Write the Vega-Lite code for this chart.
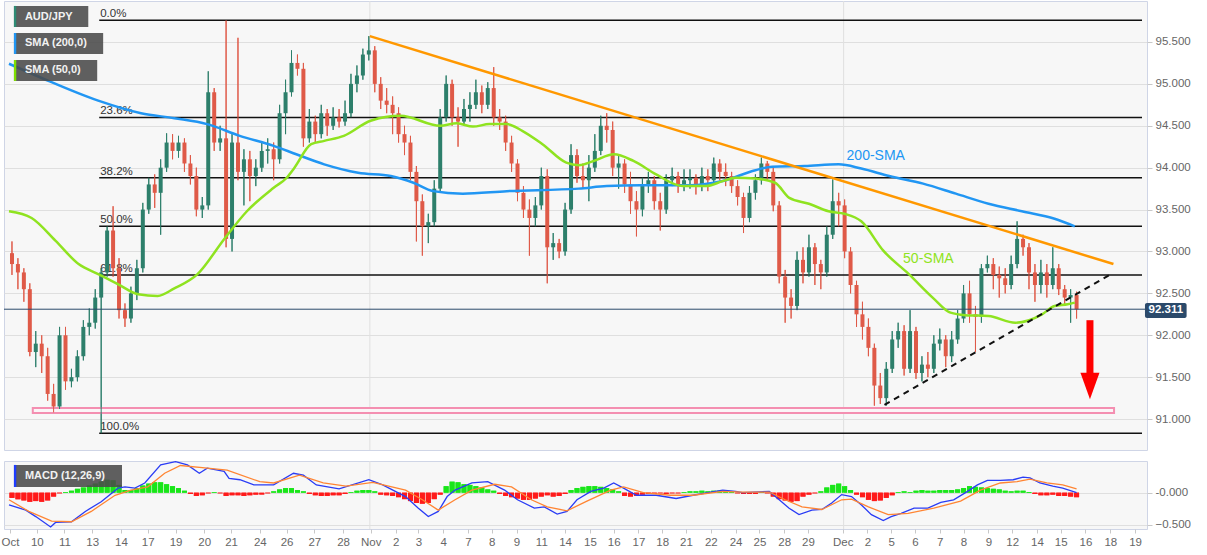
{
"$schema": "https://vega.github.io/schema/vega-lite/v6.json",
"padding": 0,
"spacing": 7,
"background": "#ffffff",
"config": {
  "font": "Liberation Sans",
  "view": {"stroke": "#cfd5e6", "fill": "#f7f7f7"},
  "axis": {"labelFont": "Liberation Sans", "labelFontSize": 11.5, "labelColor": "#666666", "tickColor": "#c8c8c8", "domain": false, "gridColor": "#dfdfdf"}
},
"resolve": {"scale": {"x": "independent", "y": "independent"}},
"datasets": {
  "candles": [
{"i":0,"o":92.98,"h":93.12,"l":92.72,"c":92.85,"hist":-0.08},
{"i":1,"o":92.85,"h":92.92,"l":92.55,"c":92.75,"hist":-0.10},
{"i":2,"o":92.75,"h":92.80,"l":92.40,"c":92.55,"hist":-0.12},
{"i":3,"o":92.55,"h":92.62,"l":91.75,"c":91.80,"hist":-0.14},
{"i":4,"o":91.80,"h":92.05,"l":91.62,"c":91.90,"hist":-0.13},
{"i":5,"o":91.90,"h":92.00,"l":91.55,"c":91.75,"hist":-0.14},
{"i":6,"o":91.75,"h":91.85,"l":91.22,"c":91.30,"hist":-0.12},
{"i":7,"o":91.30,"h":91.42,"l":91.08,"c":91.15,"hist":-0.06},
{"i":8,"o":91.15,"h":92.10,"l":91.12,"c":92.00,"hist":-0.01},
{"i":9,"o":92.00,"h":92.10,"l":91.35,"c":91.45,"hist":0.01},
{"i":10,"o":91.45,"h":91.60,"l":91.38,"c":91.50,"hist":0.03},
{"i":11,"o":91.50,"h":91.82,"l":91.45,"c":91.75,"hist":0.06},
{"i":12,"o":91.75,"h":92.18,"l":91.70,"c":92.10,"hist":0.08},
{"i":13,"o":92.10,"h":92.32,"l":92.00,"c":92.15,"hist":0.11},
{"i":14,"o":92.15,"h":92.55,"l":92.08,"c":92.45,"hist":0.14},
{"i":15,"o":92.45,"h":92.80,"l":90.83,"c":92.75,"hist":0.17},
{"i":16,"o":92.75,"h":93.30,"l":92.70,"c":93.25,"hist":0.20},
{"i":17,"o":93.25,"h":93.54,"l":92.70,"c":92.80,"hist":0.19},
{"i":18,"o":92.80,"h":92.92,"l":92.20,"c":92.30,"hist":0.12},
{"i":19,"o":92.30,"h":92.38,"l":92.10,"c":92.20,"hist":0.04},
{"i":20,"o":92.20,"h":92.58,"l":92.15,"c":92.50,"hist":0.04},
{"i":21,"o":92.50,"h":92.90,"l":92.42,"c":92.80,"hist":0.07},
{"i":22,"o":92.80,"h":93.58,"l":92.75,"c":93.50,"hist":0.11},
{"i":23,"o":93.50,"h":93.88,"l":93.45,"c":93.80,"hist":0.14},
{"i":24,"o":93.80,"h":93.92,"l":93.52,"c":93.70,"hist":0.16},
{"i":25,"o":93.70,"h":94.10,"l":93.20,"c":94.00,"hist":0.16},
{"i":26,"o":94.00,"h":94.41,"l":93.95,"c":94.30,"hist":0.13},
{"i":27,"o":94.30,"h":94.40,"l":94.10,"c":94.20,"hist":0.10},
{"i":28,"o":94.20,"h":94.38,"l":94.12,"c":94.30,"hist":0.07},
{"i":29,"o":94.30,"h":94.35,"l":93.95,"c":94.05,"hist":0.03},
{"i":30,"o":94.05,"h":94.15,"l":93.80,"c":93.90,"hist":-0.02},
{"i":31,"o":93.90,"h":94.00,"l":93.42,"c":93.50,"hist":-0.05},
{"i":32,"o":93.50,"h":93.65,"l":93.40,"c":93.55,"hist":-0.04},
{"i":33,"o":93.55,"h":95.15,"l":93.50,"c":94.90,"hist":-0.01},
{"i":34,"o":94.90,"h":94.95,"l":94.20,"c":94.30,"hist":0.01},
{"i":35,"o":94.30,"h":94.50,"l":94.20,"c":94.35,"hist":-0.01},
{"i":36,"o":94.35,"h":95.76,"l":93.05,"c":93.15,"hist":-0.05},
{"i":37,"o":93.15,"h":94.40,"l":93.00,"c":94.30,"hist":-0.04},
{"i":38,"o":94.30,"h":95.55,"l":93.85,"c":93.95,"hist":-0.04},
{"i":39,"o":93.95,"h":94.22,"l":93.55,"c":94.10,"hist":-0.05},
{"i":40,"o":94.10,"h":94.20,"l":93.60,"c":93.90,"hist":-0.04},
{"i":41,"o":93.90,"h":94.10,"l":93.78,"c":94.00,"hist":-0.03},
{"i":42,"o":94.00,"h":94.30,"l":93.95,"c":94.20,"hist":-0.03},
{"i":43,"o":94.20,"h":94.35,"l":94.05,"c":94.22,"hist":-0.01},
{"i":44,"o":94.22,"h":94.30,"l":93.85,"c":94.10,"hist":0.02},
{"i":45,"o":94.10,"h":94.75,"l":94.05,"c":94.65,"hist":0.05},
{"i":46,"o":94.65,"h":95.05,"l":94.40,"c":94.90,"hist":0.07},
{"i":47,"o":94.90,"h":95.40,"l":94.85,"c":95.25,"hist":0.07},
{"i":48,"o":95.25,"h":95.35,"l":95.10,"c":95.18,"hist":0.04},
{"i":49,"o":95.18,"h":95.25,"l":94.25,"c":94.35,"hist":0.02},
{"i":50,"o":94.35,"h":94.70,"l":94.30,"c":94.55,"hist":-0.02},
{"i":51,"o":94.55,"h":94.62,"l":94.30,"c":94.40,"hist":-0.04},
{"i":52,"o":94.40,"h":94.75,"l":94.35,"c":94.65,"hist":-0.05},
{"i":53,"o":94.65,"h":94.70,"l":94.38,"c":94.50,"hist":-0.05},
{"i":54,"o":94.50,"h":94.72,"l":94.45,"c":94.60,"hist":-0.04},
{"i":55,"o":94.60,"h":94.70,"l":94.48,"c":94.55,"hist":-0.04},
{"i":56,"o":94.55,"h":94.80,"l":94.50,"c":94.65,"hist":-0.02},
{"i":57,"o":94.65,"h":95.12,"l":94.60,"c":95.00,"hist":0.01},
{"i":58,"o":95.00,"h":95.22,"l":94.90,"c":95.10,"hist":0.03},
{"i":59,"o":95.10,"h":95.42,"l":95.05,"c":95.35,"hist":0.04},
{"i":60,"o":95.35,"h":95.57,"l":95.28,"c":95.40,"hist":0.04},
{"i":61,"o":95.40,"h":95.45,"l":94.90,"c":95.00,"hist":0.02},
{"i":62,"o":95.00,"h":95.08,"l":94.70,"c":94.80,"hist":-0.03},
{"i":63,"o":94.80,"h":94.95,"l":94.65,"c":94.75,"hist":-0.04},
{"i":64,"o":94.75,"h":94.85,"l":94.40,"c":94.65,"hist":-0.05},
{"i":65,"o":94.65,"h":94.72,"l":94.30,"c":94.40,"hist":-0.07},
{"i":66,"o":94.40,"h":94.50,"l":94.15,"c":94.30,"hist":-0.10},
{"i":67,"o":94.30,"h":94.38,"l":93.85,"c":93.95,"hist":-0.13},
{"i":68,"o":93.95,"h":94.02,"l":93.12,"c":93.60,"hist":-0.16},
{"i":69,"o":93.60,"h":93.68,"l":92.95,"c":93.30,"hist":-0.17},
{"i":70,"o":93.30,"h":93.45,"l":93.10,"c":93.35,"hist":-0.16},
{"i":71,"o":93.35,"h":93.85,"l":93.30,"c":93.75,"hist":-0.10},
{"i":72,"o":93.75,"h":94.70,"l":93.70,"c":94.60,"hist":-0.03},
{"i":73,"o":94.60,"h":95.10,"l":94.55,"c":95.00,"hist":0.10},
{"i":74,"o":95.00,"h":95.05,"l":94.50,"c":94.60,"hist":0.17},
{"i":75,"o":94.60,"h":94.72,"l":94.25,"c":94.55,"hist":0.16},
{"i":76,"o":94.55,"h":94.82,"l":94.50,"c":94.70,"hist":0.13},
{"i":77,"o":94.70,"h":94.90,"l":94.55,"c":94.75,"hist":0.12},
{"i":78,"o":94.75,"h":95.05,"l":94.70,"c":94.90,"hist":0.10},
{"i":79,"o":94.90,"h":94.98,"l":94.65,"c":94.75,"hist":0.08},
{"i":80,"o":94.75,"h":95.02,"l":94.70,"c":94.95,"hist":0.05},
{"i":81,"o":94.95,"h":95.20,"l":94.50,"c":94.60,"hist":0.03},
{"i":82,"o":94.60,"h":94.70,"l":94.45,"c":94.55,"hist":-0.02},
{"i":83,"o":94.55,"h":94.62,"l":94.20,"c":94.30,"hist":-0.05},
{"i":84,"o":94.30,"h":94.38,"l":93.95,"c":94.05,"hist":-0.07},
{"i":85,"o":94.05,"h":94.10,"l":93.60,"c":93.70,"hist":-0.09},
{"i":86,"o":93.70,"h":93.78,"l":93.40,"c":93.50,"hist":-0.11},
{"i":87,"o":93.50,"h":93.62,"l":92.95,"c":93.40,"hist":-0.11},
{"i":88,"o":93.40,"h":93.65,"l":93.30,"c":93.55,"hist":-0.09},
{"i":89,"o":93.55,"h":94.00,"l":93.50,"c":93.90,"hist":-0.06},
{"i":90,"o":93.90,"h":93.98,"l":92.62,"c":93.05,"hist":-0.04},
{"i":91,"o":93.05,"h":93.22,"l":92.90,"c":93.10,"hist":-0.06},
{"i":92,"o":93.10,"h":93.15,"l":92.92,"c":93.00,"hist":-0.05},
{"i":93,"o":93.00,"h":93.58,"l":92.95,"c":93.50,"hist":-0.02},
{"i":94,"o":93.50,"h":94.28,"l":93.45,"c":94.15,"hist":0.04},
{"i":95,"o":94.15,"h":94.22,"l":93.82,"c":93.90,"hist":0.07},
{"i":96,"o":93.90,"h":94.05,"l":93.75,"c":93.85,"hist":0.09},
{"i":97,"o":93.85,"h":94.15,"l":93.60,"c":94.00,"hist":0.10},
{"i":98,"o":94.00,"h":94.40,"l":93.95,"c":94.20,"hist":0.10},
{"i":99,"o":94.20,"h":94.62,"l":94.15,"c":94.50,"hist":0.09},
{"i":100,"o":94.50,"h":94.65,"l":94.30,"c":94.45,"hist":0.07},
{"i":101,"o":94.45,"h":94.55,"l":93.90,"c":94.00,"hist":0.05},
{"i":102,"o":94.00,"h":94.15,"l":93.75,"c":94.05,"hist":0.02},
{"i":103,"o":94.05,"h":94.10,"l":93.70,"c":93.80,"hist":-0.05},
{"i":104,"o":93.80,"h":93.95,"l":93.45,"c":93.60,"hist":-0.06},
{"i":105,"o":93.60,"h":93.72,"l":93.18,"c":93.50,"hist":-0.05},
{"i":106,"o":93.50,"h":93.88,"l":93.42,"c":93.80,"hist":-0.03},
{"i":107,"o":93.80,"h":93.95,"l":93.70,"c":93.85,"hist":-0.02},
{"i":108,"o":93.85,"h":93.90,"l":93.50,"c":93.60,"hist":-0.02},
{"i":109,"o":93.60,"h":93.70,"l":93.25,"c":93.50,"hist":-0.01},
{"i":110,"o":93.50,"h":93.92,"l":93.45,"c":93.85,"hist":-0.02},
{"i":111,"o":93.85,"h":94.00,"l":93.78,"c":93.90,"hist":-0.01},
{"i":112,"o":93.90,"h":93.95,"l":93.70,"c":93.80,"hist":-0.01},
{"i":113,"o":93.80,"h":93.98,"l":93.72,"c":93.85,"hist":0.01},
{"i":114,"o":93.85,"h":93.98,"l":93.75,"c":93.88,"hist":0.02},
{"i":115,"o":93.88,"h":93.92,"l":93.68,"c":93.78,"hist":0.02},
{"i":116,"o":93.78,"h":94.00,"l":93.72,"c":93.90,"hist":0.03},
{"i":117,"o":93.90,"h":93.98,"l":93.72,"c":93.85,"hist":0.02},
{"i":118,"o":93.85,"h":94.12,"l":93.80,"c":94.05,"hist":0.03},
{"i":119,"o":94.05,"h":94.10,"l":93.85,"c":93.95,"hist":0.03},
{"i":120,"o":93.95,"h":94.05,"l":93.78,"c":93.90,"hist":0.02},
{"i":121,"o":93.90,"h":93.95,"l":93.70,"c":93.78,"hist":0.02},
{"i":122,"o":93.78,"h":93.85,"l":93.55,"c":93.65,"hist":-0.01},
{"i":123,"o":93.65,"h":93.70,"l":93.22,"c":93.40,"hist":-0.02},
{"i":124,"o":93.40,"h":93.78,"l":93.35,"c":93.70,"hist":-0.02},
{"i":125,"o":93.70,"h":93.92,"l":93.62,"c":93.85,"hist":-0.02},
{"i":126,"o":93.85,"h":94.12,"l":93.80,"c":94.05,"hist":0.01},
{"i":127,"o":94.05,"h":94.08,"l":93.85,"c":93.95,"hist":-0.01},
{"i":128,"o":93.95,"h":94.00,"l":93.48,"c":93.55,"hist":-0.06},
{"i":129,"o":93.55,"h":93.60,"l":92.62,"c":92.70,"hist":-0.10},
{"i":130,"o":92.70,"h":92.78,"l":92.15,"c":92.45,"hist":-0.12},
{"i":131,"o":92.45,"h":92.55,"l":92.20,"c":92.35,"hist":-0.14},
{"i":132,"o":92.35,"h":93.00,"l":92.30,"c":92.90,"hist":-0.13},
{"i":133,"o":92.90,"h":93.05,"l":92.62,"c":92.75,"hist":-0.06},
{"i":134,"o":92.75,"h":93.20,"l":92.70,"c":93.05,"hist":-0.03},
{"i":135,"o":93.05,"h":93.10,"l":92.60,"c":92.85,"hist":-0.01},
{"i":136,"o":92.85,"h":92.90,"l":92.55,"c":92.75,"hist":0.02},
{"i":137,"o":92.75,"h":93.30,"l":92.70,"c":93.20,"hist":0.08},
{"i":138,"o":93.20,"h":93.86,"l":93.15,"c":93.60,"hist":0.12},
{"i":139,"o":93.60,"h":93.70,"l":93.30,"c":93.55,"hist":0.14},
{"i":140,"o":93.55,"h":93.62,"l":92.92,"c":93.00,"hist":0.10},
{"i":141,"o":93.00,"h":93.05,"l":92.50,"c":92.60,"hist":0.04},
{"i":142,"o":92.60,"h":92.65,"l":92.10,"c":92.25,"hist":-0.03},
{"i":143,"o":92.25,"h":92.40,"l":91.95,"c":92.10,"hist":-0.07},
{"i":144,"o":92.10,"h":92.20,"l":91.75,"c":91.85,"hist":-0.11},
{"i":145,"o":91.85,"h":91.90,"l":91.16,"c":91.40,"hist":-0.13},
{"i":146,"o":91.40,"h":91.55,"l":91.18,"c":91.25,"hist":-0.12},
{"i":147,"o":91.25,"h":91.68,"l":91.16,"c":91.60,"hist":-0.08},
{"i":148,"o":91.60,"h":92.05,"l":91.55,"c":91.95,"hist":-0.04},
{"i":149,"o":91.95,"h":92.15,"l":91.85,"c":92.05,"hist":0.01},
{"i":150,"o":92.05,"h":92.12,"l":91.52,"c":91.60,"hist":0.02},
{"i":151,"o":91.60,"h":92.30,"l":91.55,"c":92.05,"hist":0.01},
{"i":152,"o":92.05,"h":92.10,"l":91.48,"c":91.55,"hist":0.03},
{"i":153,"o":91.55,"h":91.75,"l":91.45,"c":91.65,"hist":0.04},
{"i":154,"o":91.65,"h":91.80,"l":91.50,"c":91.60,"hist":0.03},
{"i":155,"o":91.60,"h":92.00,"l":91.55,"c":91.90,"hist":0.03},
{"i":156,"o":91.90,"h":92.08,"l":91.82,"c":91.95,"hist":0.04},
{"i":157,"o":91.95,"h":92.00,"l":91.62,"c":91.75,"hist":0.04},
{"i":158,"o":91.75,"h":92.05,"l":91.68,"c":91.95,"hist":0.04},
{"i":159,"o":91.95,"h":92.30,"l":91.90,"c":92.20,"hist":0.05},
{"i":160,"o":92.20,"h":92.60,"l":92.15,"c":92.50,"hist":0.07},
{"i":161,"o":92.50,"h":92.65,"l":92.15,"c":92.25,"hist":0.10},
{"i":162,"o":92.25,"h":92.35,"l":91.80,"c":92.22,"hist":0.09},
{"i":163,"o":92.22,"h":92.85,"l":92.15,"c":92.80,"hist":0.08},
{"i":164,"o":92.80,"h":92.95,"l":92.75,"c":92.85,"hist":0.07},
{"i":165,"o":92.85,"h":92.92,"l":92.55,"c":92.72,"hist":0.06},
{"i":166,"o":92.72,"h":92.82,"l":92.45,"c":92.68,"hist":0.05},
{"i":167,"o":92.68,"h":92.80,"l":92.50,"c":92.60,"hist":0.03},
{"i":168,"o":92.60,"h":92.95,"l":92.55,"c":92.85,"hist":0.02},
{"i":169,"o":92.85,"h":93.36,"l":92.80,"c":93.15,"hist":0.03},
{"i":170,"o":93.15,"h":93.20,"l":92.95,"c":93.05,"hist":0.03},
{"i":171,"o":93.05,"h":93.10,"l":92.55,"c":92.75,"hist":0.01},
{"i":172,"o":92.75,"h":92.85,"l":92.40,"c":92.60,"hist":-0.02},
{"i":173,"o":92.60,"h":92.90,"l":92.50,"c":92.75,"hist":-0.04},
{"i":174,"o":92.75,"h":92.85,"l":92.45,"c":92.60,"hist":-0.04},
{"i":175,"o":92.60,"h":93.05,"l":92.55,"c":92.80,"hist":-0.03},
{"i":176,"o":92.80,"h":92.85,"l":92.48,"c":92.55,"hist":-0.05},
{"i":177,"o":92.55,"h":92.60,"l":92.35,"c":92.45,"hist":-0.05},
{"i":178,"o":92.45,"h":92.55,"l":92.15,"c":92.48,"hist":-0.06},
{"i":179,"o":92.48,"h":92.52,"l":92.20,"c":92.31,"hist":-0.07}
  ],
  "sma200": [
{"i":-0.5,"v":95.24},{"i":5,"v":95.07},{"i":14.5,"v":94.80},{"i":21.7,"v":94.65},{"i":27.3,"v":94.59},{"i":32.8,"v":94.52},{"i":38.3,"v":94.38},{"i":44,"v":94.26},{"i":47.8,"v":94.16},{"i":52.5,"v":94.04},{"i":58.2,"v":93.94},{"i":63.7,"v":93.90},{"i":67.5,"v":93.82},{"i":70.8,"v":93.72},{"i":75.8,"v":93.69},{"i":83.2,"v":93.72},{"i":95.3,"v":93.75},{"i":100,"v":93.78},{"i":105.7,"v":93.79},{"i":114,"v":93.79},{"i":119.5,"v":93.84},{"i":125,"v":93.97},{"i":127.8,"v":94.01},{"i":133.3,"v":94.02},{"i":139,"v":94.04},{"i":142.8,"v":93.99},{"i":147.5,"v":93.90},{"i":153.2,"v":93.81},{"i":158.7,"v":93.69},{"i":164.2,"v":93.57},{"i":169.8,"v":93.48},{"i":175.3,"v":93.39},{"i":178.7,"v":93.30}
  ],
  "sma50": [
{"i":-0.5,"v":93.48},{"i":3.3,"v":93.40},{"i":7.3,"v":93.13},{"i":11.2,"v":92.85},{"i":14.5,"v":92.73},{"i":17.8,"v":92.61},{"i":21.2,"v":92.49},{"i":24.5,"v":92.47},{"i":27.3,"v":92.56},{"i":31.2,"v":92.73},{"i":35.7,"v":93.15},{"i":39.5,"v":93.48},{"i":44,"v":93.76},{"i":46.2,"v":93.88},{"i":47.5,"v":94.0},{"i":50.3,"v":94.28},{"i":52.5,"v":94.32},{"i":55.8,"v":94.38},{"i":60.3,"v":94.56},{"i":65.3,"v":94.62},{"i":72,"v":94.50},{"i":74.8,"v":94.53},{"i":77.5,"v":94.49},{"i":80.3,"v":94.52},{"i":83.2,"v":94.52},{"i":85.8,"v":94.44},{"i":89.2,"v":94.28},{"i":93.2,"v":94.06},{"i":95.3,"v":94.03},{"i":97.8,"v":94.08},{"i":101.2,"v":94.16},{"i":104.5,"v":94.08},{"i":108.3,"v":93.92},{"i":112.8,"v":93.78},{"i":116.7,"v":93.78},{"i":119.5,"v":93.84},{"i":121.7,"v":93.88},{"i":125,"v":93.87},{"i":128.3,"v":93.82},{"i":130.7,"v":93.64},{"i":134,"v":93.57},{"i":137.3,"v":93.48},{"i":140,"v":93.45},{"i":142.8,"v":93.36},{"i":146.5,"v":93.01},{"i":150.8,"v":92.73},{"i":154.8,"v":92.45},{"i":157.8,"v":92.27},{"i":160.3,"v":92.24},{"i":164.2,"v":92.23},{"i":168.7,"v":92.15},{"i":173.2,"v":92.25},{"i":175.3,"v":92.35},{"i":177.5,"v":92.37},{"i":178.7,"v":92.39}
  ],
  "fib": [
{"lab":"0.0%","p":95.76},{"lab":"23.6%","p":94.60},{"lab":"38.2%","p":93.88},{"lab":"50.0%","p":93.30},{"lab":"61.8%","p":92.72},{"lab":"100.0%","p":90.83}
  ],
  "resistance": [{"i":60.17,"p":95.57},{"i":185.2,"p":92.85}],
  "support": [{"i":146.7,"p":91.17},{"i":184.8,"p":92.73}],
  "months": [{"i":60.17},{"i":139.83}],
  "macd": [
{"i":-0.5,"v":-0.19},{"i":2.33,"v":-0.27},{"i":4,"v":-0.37},{"i":6.5,"v":-0.53},{"i":7.33,"v":-0.46},{"i":10,"v":-0.45},{"i":12.33,"v":-0.29},{"i":15,"v":-0.14},{"i":17.83,"v":0.07},{"i":19,"v":0.09},{"i":20.67,"v":0.07},{"i":22.33,"v":0.15},{"i":25,"v":0.43},{"i":27.5,"v":0.48},{"i":29.5,"v":0.43},{"i":31.5,"v":0.30},{"i":32.83,"v":0.38},{"i":35.67,"v":0.33},{"i":36.5,"v":0.22},{"i":38.33,"v":0.20},{"i":40.67,"v":0.12},{"i":44,"v":0.12},{"i":47.33,"v":0.30},{"i":49,"v":0.27},{"i":51.17,"v":0.12},{"i":55,"v":0.06},{"i":60,"v":0.20},{"i":62.33,"v":0.12},{"i":66.17,"v":-0.06},{"i":68.33,"v":-0.24},{"i":70,"v":-0.37},{"i":71.67,"v":-0.29},{"i":73.17,"v":-0.06},{"i":74.5,"v":0.04},{"i":77.33,"v":0.15},{"i":80,"v":0.17},{"i":82.83,"v":0.04},{"i":85,"v":-0.11},{"i":87.83,"v":-0.24},{"i":89.5,"v":-0.22},{"i":91.67,"v":-0.33},{"i":93.33,"v":-0.29},{"i":95,"v":-0.11},{"i":97.33,"v":0.02},{"i":99.5,"v":0.07},{"i":101.17,"v":0.15},{"i":102.83,"v":0.07},{"i":105,"v":-0.04},{"i":108.33,"v":-0.04},{"i":111.67,"v":-0.09},{"i":114.5,"v":-0.04},{"i":119.5,"v":0.04},{"i":121.67,"v":0.02},{"i":122.83,"v":0.0},{"i":127.33,"v":0.02},{"i":129,"v":-0.11},{"i":130.67,"v":-0.24},{"i":132.33,"v":-0.34},{"i":134.5,"v":-0.27},{"i":136.17,"v":-0.26},{"i":137.83,"v":-0.16},{"i":139.5,"v":-0.03},{"i":141.17,"v":-0.06},{"i":142.83,"v":-0.19},{"i":144.5,"v":-0.34},{"i":146.5,"v":-0.43},{"i":147.83,"v":-0.37},{"i":149.5,"v":-0.32},{"i":151.67,"v":-0.24},{"i":154,"v":-0.24},{"i":156.17,"v":-0.15},{"i":158.33,"v":-0.11},{"i":160.67,"v":0.02},{"i":162.33,"v":0.12},{"i":164,"v":0.19},{"i":166.17,"v":0.19},{"i":168.33,"v":0.20},{"i":170,"v":0.24},{"i":171.17,"v":0.23},{"i":172.83,"v":0.15},{"i":175,"v":0.10},{"i":176.67,"v":0.07},{"i":179,"v":0.0}
  ],
  "signal": [
{"i":-0.5,"v":-0.11},{"i":2.83,"v":-0.29},{"i":6.67,"v":-0.44},{"i":10,"v":-0.45},{"i":13.33,"v":-0.29},{"i":17.33,"v":-0.04},{"i":20,"v":0.04},{"i":22.83,"v":0.09},{"i":25.67,"v":0.30},{"i":28.33,"v":0.42},{"i":32.83,"v":0.38},{"i":36.17,"v":0.35},{"i":41.67,"v":0.17},{"i":44,"v":0.15},{"i":48.33,"v":0.27},{"i":52.33,"v":0.15},{"i":56.17,"v":0.10},{"i":60.67,"v":0.16},{"i":66.17,"v":0.04},{"i":69,"v":-0.11},{"i":71.67,"v":-0.27},{"i":74.5,"v":-0.11},{"i":77.33,"v":0.04},{"i":81.17,"v":0.13},{"i":84,"v":0.09},{"i":87.33,"v":-0.11},{"i":90,"v":-0.22},{"i":93.33,"v":-0.28},{"i":96.67,"v":-0.13},{"i":100.67,"v":0.04},{"i":102.83,"v":0.09},{"i":106.17,"v":0.0},{"i":110.67,"v":-0.04},{"i":114.5,"v":-0.04},{"i":119.5,"v":0.02},{"i":122.83,"v":0.01},{"i":127.33,"v":0.01},{"i":130,"v":-0.11},{"i":132.83,"v":-0.22},{"i":136.17,"v":-0.26},{"i":139.5,"v":-0.11},{"i":141.17,"v":-0.10},{"i":144,"v":-0.22},{"i":147.33,"v":-0.34},{"i":150.67,"v":-0.32},{"i":155,"v":-0.24},{"i":159.5,"v":-0.13},{"i":162.83,"v":0.04},{"i":166.17,"v":0.15},{"i":169,"v":0.17},{"i":171.17,"v":0.21},{"i":174,"v":0.15},{"i":176.67,"v":0.12},{"i":179,"v":0.06}
  ]
},
"vconcat": [
{
  "width": 1143,
  "height": 449,
  "resolve": {"axis": {"y": "independent"}},
  "layer": [
    {"data": {"name": "months"}, "mark": {"type": "rule", "color": "#e0e0e0", "strokeWidth": 1},
     "encoding": {"x": {"field": "i", "type": "quantitative", "scale": {"domain": [-0.5, 190], "nice": false, "zero": false}, "axis": null}}},
    {"data": {"name": "candles"}, "mark": {"type": "rule", "strokeWidth": 1},
     "encoding": {
       "x": {"field": "i", "type": "quantitative", "scale": {"domain": [-0.5, 190], "nice": false, "zero": false}, "axis": null},
       "y": {"field": "l", "type": "quantitative", "scale": {"domain": [90.631, 95.989], "nice": false, "zero": false},
             "axis": {"orient": "right", "values": [91, 91.5, 92, 92.5, 93, 93.5, 94, 94.5, 95, 95.5], "format": ".3f", "grid": true, "title": null, "tickSize": 5, "labelPadding": 3}},
       "y2": {"field": "h"},
       "color": {"condition": {"test": "datum.c >= datum.o", "value": "#2d7f6b"}, "value": "#df5a48"}}},
    {"data": {"name": "fib"}, "mark": {"type": "rule", "color": "#111111", "strokeWidth": 1.5},
     "encoding": {
       "x": {"datum": 14.67, "type": "quantitative", "scale": {"domain": [-0.5, 190], "nice": false, "zero": false}, "axis": null},
       "x2": {"datum": 190},
       "y": {"field": "p", "type": "quantitative", "scale": {"domain": [90.631, 95.989], "nice": false, "zero": false}, "axis": null}}},
    {"data": {"name": "fib"}, "mark": {"type": "text", "align": "left", "baseline": "bottom", "dy": -1, "fontSize": 11.5, "color": "#333333"},
     "encoding": {
       "x": {"datum": 14.83, "type": "quantitative", "scale": {"domain": [-0.5, 190], "nice": false, "zero": false}, "axis": null},
       "y": {"field": "p", "type": "quantitative", "scale": {"domain": [90.631, 95.989], "nice": false, "zero": false}, "axis": null},
       "text": {"field": "lab"}}},
    {"data": {"values": [{}]}, "mark": {"type": "rect", "fill": "#fbf5f7", "stroke": "#f48fb1", "strokeWidth": 2},
     "encoding": {
       "x": {"datum": 3.5, "type": "quantitative", "scale": {"domain": [-0.5, 190], "nice": false, "zero": false}, "axis": null},
       "x2": {"datum": 185.3},
       "y": {"datum": 91.133, "type": "quantitative", "scale": {"domain": [90.631, 95.989], "nice": false, "zero": false}, "axis": null},
       "y2": {"datum": 91.073}}},
    {"data": {"name": "candles"}, "mark": {"type": "rule", "strokeWidth": 1},
     "encoding": {
       "x": {"field": "i", "type": "quantitative", "scale": {"domain": [-0.5, 190], "nice": false, "zero": false}, "axis": null},
       "y": {"field": "l", "type": "quantitative", "scale": {"domain": [90.631, 95.989], "nice": false, "zero": false}, "axis": null},
       "y2": {"field": "h"},
       "color": {"condition": {"test": "datum.c >= datum.o", "value": "#2d7f6b"}, "value": "#df5a48"}}},
    {"data": {"name": "candles"}, "mark": {"type": "bar", "width": 4},
     "encoding": {
       "x": {"field": "i", "type": "quantitative", "scale": {"domain": [-0.5, 190], "nice": false, "zero": false}, "axis": null},
       "y": {"field": "o", "type": "quantitative", "scale": {"domain": [90.631, 95.989], "nice": false, "zero": false}, "axis": null},
       "y2": {"field": "c"},
       "color": {"condition": {"test": "datum.c >= datum.o", "value": "#2d7f6b"}, "value": "#df5a48"}}},
    {"data": {"values": [{}]}, "mark": {"type": "rule", "color": "#2b4a6b", "strokeWidth": 1},
     "encoding": {
       "y": {"datum": 92.311, "type": "quantitative", "scale": {"domain": [90.631, 95.989], "nice": false, "zero": false}, "axis": null}}},
    {"data": {"name": "sma200"}, "mark": {"type": "line", "color": "#2196f3", "strokeWidth": 2.5, "interpolate": "monotone"},
     "encoding": {
       "x": {"field": "i", "type": "quantitative", "scale": {"domain": [-0.5, 190], "nice": false, "zero": false}, "axis": null},
       "y": {"field": "v", "type": "quantitative", "scale": {"domain": [90.631, 95.989], "nice": false, "zero": false}, "axis": null}}},
    {"data": {"name": "sma50"}, "mark": {"type": "line", "color": "#8fe320", "strokeWidth": 2.5, "interpolate": "monotone"},
     "encoding": {
       "x": {"field": "i", "type": "quantitative", "scale": {"domain": [-0.5, 190], "nice": false, "zero": false}, "axis": null},
       "y": {"field": "v", "type": "quantitative", "scale": {"domain": [90.631, 95.989], "nice": false, "zero": false}, "axis": null}}},
    {"data": {"name": "resistance"}, "mark": {"type": "line", "color": "#ff9800", "strokeWidth": 2.5},
     "encoding": {
       "x": {"field": "i", "type": "quantitative", "scale": {"domain": [-0.5, 190], "nice": false, "zero": false}, "axis": null},
       "y": {"field": "p", "type": "quantitative", "scale": {"domain": [90.631, 95.989], "nice": false, "zero": false}, "axis": null}}},
    {"data": {"name": "support"}, "mark": {"type": "line", "color": "#111111", "strokeWidth": 2, "strokeDash": [6, 5]},
     "encoding": {
       "x": {"field": "i", "type": "quantitative", "scale": {"domain": [-0.5, 190], "nice": false, "zero": false}, "axis": null},
       "y": {"field": "p", "type": "quantitative", "scale": {"domain": [90.631, 95.989], "nice": false, "zero": false}, "axis": null}}},
    {"data": {"values": [{}]}, "mark": {"type": "rule", "color": "#ff0000", "strokeWidth": 7},
     "encoding": {
       "x": {"datum": 181.25, "type": "quantitative", "scale": {"domain": [-0.5, 190], "nice": false, "zero": false}, "axis": null},
       "y": {"datum": 92.18, "type": "quantitative", "scale": {"domain": [90.631, 95.989], "nice": false, "zero": false}, "axis": null},
       "y2": {"datum": 91.5}}},
    {"data": {"values": [{}]}, "mark": {"type": "point", "shape": "M-0.72,-1L0.72,-1L0,1Z", "size": 700, "filled": true, "opacity": 1, "color": "#ff0000"},
     "encoding": {
       "x": {"datum": 181.25, "type": "quantitative", "scale": {"domain": [-0.5, 190], "nice": false, "zero": false}, "axis": null},
       "y": {"datum": 91.395, "type": "quantitative", "scale": {"domain": [90.631, 95.989], "nice": false, "zero": false}, "axis": null}}},
    {"data": {"values": [{}]}, "mark": {"type": "text", "text": "200-SMA", "align": "left", "baseline": "middle", "fontSize": 14, "color": "#2196f3"},
     "encoding": {
       "x": {"datum": 140.33, "type": "quantitative", "scale": {"domain": [-0.5, 190], "nice": false, "zero": false}, "axis": null},
       "y": {"datum": 94.14, "type": "quantitative", "scale": {"domain": [90.631, 95.989], "nice": false, "zero": false}, "axis": null}}},
    {"data": {"values": [{}]}, "mark": {"type": "text", "text": "50-SMA", "align": "left", "baseline": "middle", "fontSize": 14, "color": "#8fe320"},
     "encoding": {
       "x": {"datum": 149.83, "type": "quantitative", "scale": {"domain": [-0.5, 190], "nice": false, "zero": false}, "axis": null},
       "y": {"datum": 92.91, "type": "quantitative", "scale": {"domain": [90.631, 95.989], "nice": false, "zero": false}, "axis": null}}},
    {"data": {"values": [{}]}, "mark": {"type": "rect", "fill": "#4a4a4a", "opacity": 0.88},
     "encoding": {
       "x": {"datum": 0.33, "type": "quantitative", "scale": {"domain": [-0.5, 190], "nice": false, "zero": false}, "axis": null},
       "x2": {"datum": 12.83},
       "y": {"datum": 95.93, "type": "quantitative", "scale": {"domain": [90.631, 95.989], "nice": false, "zero": false}, "axis": null},
       "y2": {"datum": 95.679}}},
    {"data": {"values": [{}]}, "mark": {"type": "rect", "fill": "#4a4a4a", "opacity": 0.88},
     "encoding": {
       "x": {"datum": 0.33, "type": "quantitative", "scale": {"domain": [-0.5, 190], "nice": false, "zero": false}, "axis": null},
       "x2": {"datum": 15.33},
       "y": {"datum": 95.607, "type": "quantitative", "scale": {"domain": [90.631, 95.989], "nice": false, "zero": false}, "axis": null},
       "y2": {"datum": 95.357}}},
    {"data": {"values": [{}]}, "mark": {"type": "rect", "fill": "#4a4a4a", "opacity": 0.88},
     "encoding": {
       "x": {"datum": 0.33, "type": "quantitative", "scale": {"domain": [-0.5, 190], "nice": false, "zero": false}, "axis": null},
       "x2": {"datum": 14.33},
       "y": {"datum": 95.285, "type": "quantitative", "scale": {"domain": [90.631, 95.989], "nice": false, "zero": false}, "axis": null},
       "y2": {"datum": 95.035}}},
    {"data": {"values": [{}]}, "mark": {"type": "rect", "fill": "#2e8b74"},
     "encoding": {
       "x": {"datum": 0.33, "type": "quantitative", "scale": {"domain": [-0.5, 190], "nice": false, "zero": false}, "axis": null},
       "x2": {"datum": 0.72},
       "y": {"datum": 95.93, "type": "quantitative", "scale": {"domain": [90.631, 95.989], "nice": false, "zero": false}, "axis": null},
       "y2": {"datum": 95.679}}},
    {"data": {"values": [{}]}, "mark": {"type": "rect", "fill": "#2196f3"},
     "encoding": {
       "x": {"datum": 0.33, "type": "quantitative", "scale": {"domain": [-0.5, 190], "nice": false, "zero": false}, "axis": null},
       "x2": {"datum": 0.72},
       "y": {"datum": 95.607, "type": "quantitative", "scale": {"domain": [90.631, 95.989], "nice": false, "zero": false}, "axis": null},
       "y2": {"datum": 95.357}}},
    {"data": {"values": [{}]}, "mark": {"type": "rect", "fill": "#7fe000"},
     "encoding": {
       "x": {"datum": 0.33, "type": "quantitative", "scale": {"domain": [-0.5, 190], "nice": false, "zero": false}, "axis": null},
       "x2": {"datum": 0.72},
       "y": {"datum": 95.285, "type": "quantitative", "scale": {"domain": [90.631, 95.989], "nice": false, "zero": false}, "axis": null},
       "y2": {"datum": 95.035}}},
    {"data": {"values": [{}]}, "mark": {"type": "text", "text": "AUD/JPY", "align": "left", "baseline": "middle", "fontSize": 11, "fontWeight": "bold", "color": "#f2f2f2"},
     "encoding": {
       "x": {"datum": 2.17, "type": "quantitative", "scale": {"domain": [-0.5, 190], "nice": false, "zero": false}, "axis": null},
       "y": {"datum": 95.804, "type": "quantitative", "scale": {"domain": [90.631, 95.989], "nice": false, "zero": false}, "axis": null}}},
    {"data": {"values": [{}]}, "mark": {"type": "text", "text": "SMA (200,0)", "align": "left", "baseline": "middle", "fontSize": 11, "fontWeight": "bold", "color": "#f2f2f2"},
     "encoding": {
       "x": {"datum": 2.17, "type": "quantitative", "scale": {"domain": [-0.5, 190], "nice": false, "zero": false}, "axis": null},
       "y": {"datum": 95.482, "type": "quantitative", "scale": {"domain": [90.631, 95.989], "nice": false, "zero": false}, "axis": null}}},
    {"data": {"values": [{}]}, "mark": {"type": "text", "text": "SMA (50,0)", "align": "left", "baseline": "middle", "fontSize": 11, "fontWeight": "bold", "color": "#f2f2f2"},
     "encoding": {
       "x": {"datum": 2.17, "type": "quantitative", "scale": {"domain": [-0.5, 190], "nice": false, "zero": false}, "axis": null},
       "y": {"datum": 95.16, "type": "quantitative", "scale": {"domain": [90.631, 95.989], "nice": false, "zero": false}, "axis": null}}},
    {"data": {"values": [{}]}, "mark": {"type": "rect", "fill": "#2b4a6b", "cornerRadius": 2},
     "encoding": {
       "x": {"datum": 190.5, "type": "quantitative", "scale": {"domain": [-0.5, 190], "nice": false, "zero": false}, "axis": null},
       "x2": {"datum": 197.5},
       "y": {"datum": 92.385, "type": "quantitative", "scale": {"domain": [90.631, 95.989], "nice": false, "zero": false}, "axis": null},
       "y2": {"datum": 92.206}}},
    {"data": {"values": [{}]}, "mark": {"type": "text", "text": "92.311", "align": "center", "baseline": "middle", "fontSize": 11.5, "fontWeight": "bold", "color": "#ffffff"},
     "encoding": {
       "x": {"datum": 194, "type": "quantitative", "scale": {"domain": [-0.5, 190], "nice": false, "zero": false}, "axis": null},
       "y": {"datum": 92.296, "type": "quantitative", "scale": {"domain": [90.631, 95.989], "nice": false, "zero": false}, "axis": null}}}
  ]
},
{
  "width": 1143,
  "height": 68,
  "resolve": {"axis": {"x": "independent", "y": "independent"}},
  "layer": [
    {"data": {"name": "candles"}, "mark": {"type": "bar", "width": 5},
     "encoding": {
       "x": {"field": "i", "type": "quantitative", "scale": {"domain": [-0.5, 190], "nice": false, "zero": false},
             "axis": {"orient": "bottom", "title": null, "grid": false, "tickSize": 4, "labelPadding": 3, "labelFlush": 4, "labelOverlap": false,
                      "values": [-0.33,4.17,8.83,13.5,18.33,22.83,27.5,32.33,36.83,41.67,46.17,50.83,55.67,60.33,64.5,68.33,72.5,76.67,80.67,84.83,89,93,97.17,101.17,105.33,109.33,113.33,117.5,121.67,125.67,129.83,133.83,139.67,143.83,147.83,151.83,156,160,164.17,168.17,172.33,176.33,180.5,184.67,188.83],
                      "labelExpr": "['Oct','10','11','13','14','17','19','20','21','24','26','27','28','Nov','2','3','4','7','8','9','11','14','15','16','17','18','21','22','24','25','28','29','Dec','2','5','6','7','8','9','12','14','15','16','18','19'][indexof([-0.33,4.17,8.83,13.5,18.33,22.83,27.5,32.33,36.83,41.67,46.17,50.83,55.67,60.33,64.5,68.33,72.5,76.67,80.67,84.83,89,93,97.17,101.17,105.33,109.33,113.33,117.5,121.67,125.67,129.83,133.83,139.67,143.83,147.83,151.83,156,160,164.17,168.17,172.33,176.33,180.5,184.67,188.83], datum.value)]"}},
       "y": {"field": "hist", "type": "quantitative", "scale": {"domain": [-0.562, 0.49], "nice": false, "zero": false},
             "axis": {"orient": "right", "values": [0, -0.5], "title": null, "grid": true, "tickSize": 5, "labelPadding": 3,
                      "labelExpr": "datum.value == 0 ? '-0.000' : format(datum.value, '.3f')"}},
       "y2": {"datum": 0},
       "color": {"condition": {"test": "datum.hist >= 0", "value": "#19e619"}, "value": "#ff1a1a"}}},
    {"data": {"name": "months"}, "mark": {"type": "rule", "color": "#e0e0e0", "strokeWidth": 1},
     "encoding": {"x": {"field": "i", "type": "quantitative", "scale": {"domain": [-0.5, 190], "nice": false, "zero": false}, "axis": null}}},
    {"data": {"name": "candles"}, "mark": {"type": "bar", "width": 5},
     "encoding": {
       "x": {"field": "i", "type": "quantitative", "scale": {"domain": [-0.5, 190], "nice": false, "zero": false}, "axis": null},
       "y": {"field": "hist", "type": "quantitative", "scale": {"domain": [-0.562, 0.49], "nice": false, "zero": false}, "axis": null},
       "y2": {"datum": 0},
       "color": {"condition": {"test": "datum.hist >= 0", "value": "#19e619"}, "value": "#ff1a1a"}}},
    {"data": {"name": "macd"}, "mark": {"type": "line", "color": "#2a3cf5", "strokeWidth": 1.3},
     "encoding": {
       "x": {"field": "i", "type": "quantitative", "scale": {"domain": [-0.5, 190], "nice": false, "zero": false}, "axis": null},
       "y": {"field": "v", "type": "quantitative", "scale": {"domain": [-0.562, 0.49], "nice": false, "zero": false}, "axis": null}}},
    {"data": {"name": "signal"}, "mark": {"type": "line", "color": "#ff8533", "strokeWidth": 1.3},
     "encoding": {
       "x": {"field": "i", "type": "quantitative", "scale": {"domain": [-0.5, 190], "nice": false, "zero": false}, "axis": null},
       "y": {"field": "v", "type": "quantitative", "scale": {"domain": [-0.562, 0.49], "nice": false, "zero": false}, "axis": null}}},
    {"data": {"values": [{}]}, "mark": {"type": "rect", "fill": "#4a4a4a", "opacity": 0.88},
     "encoding": {
       "x": {"datum": 0.33, "type": "quantitative", "scale": {"domain": [-0.5, 190], "nice": false, "zero": false}, "axis": null},
       "x2": {"datum": 18.5},
       "y": {"datum": 0.429, "type": "quantitative", "scale": {"domain": [-0.562, 0.49], "nice": false, "zero": false}, "axis": null},
       "y2": {"datum": 0.088}}},
    {"data": {"values": [{}]}, "mark": {"type": "rect", "fill": "#1e3cff"},
     "encoding": {
       "x": {"datum": 0.33, "type": "quantitative", "scale": {"domain": [-0.5, 190], "nice": false, "zero": false}, "axis": null},
       "x2": {"datum": 0.72},
       "y": {"datum": 0.429, "type": "quantitative", "scale": {"domain": [-0.562, 0.49], "nice": false, "zero": false}, "axis": null},
       "y2": {"datum": 0.088}}},
    {"data": {"values": [{}]}, "mark": {"type": "text", "text": "MACD (12,26,9)", "align": "left", "baseline": "middle", "fontSize": 11, "fontWeight": "bold", "color": "#f2f2f2"},
     "encoding": {
       "x": {"datum": 2.17, "type": "quantitative", "scale": {"domain": [-0.5, 190], "nice": false, "zero": false}, "axis": null},
       "y": {"datum": 0.258, "type": "quantitative", "scale": {"domain": [-0.562, 0.49], "nice": false, "zero": false}, "axis": null}}}
  ]
}
]
}
